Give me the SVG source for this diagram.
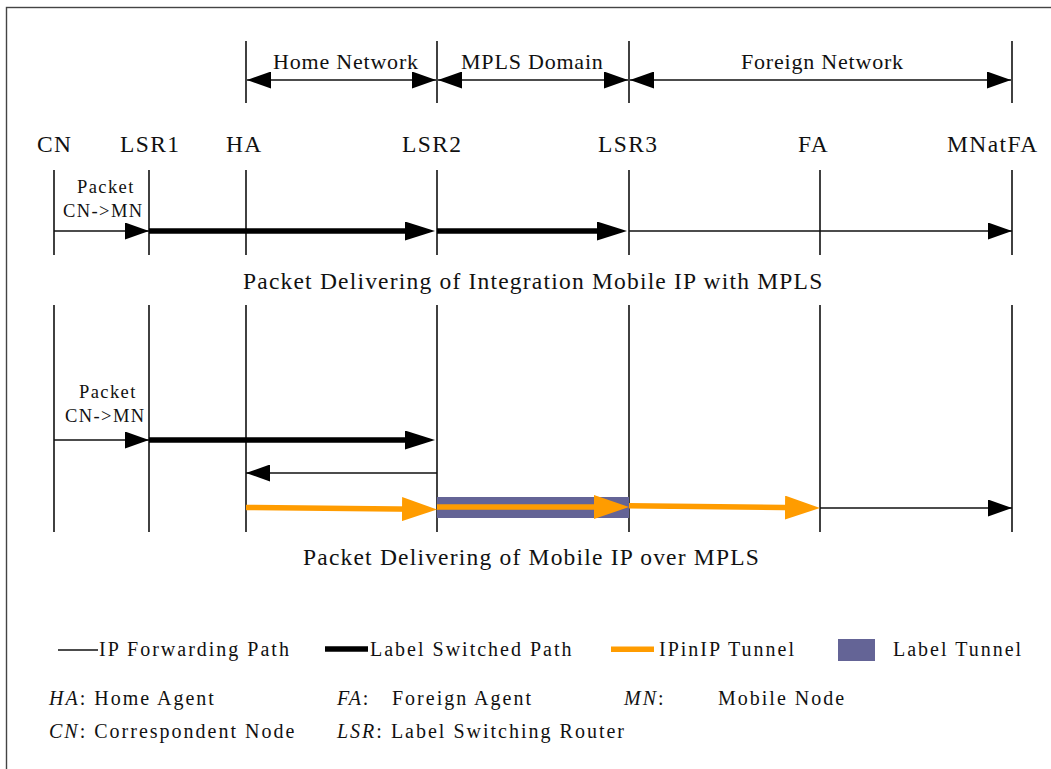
<svg xmlns="http://www.w3.org/2000/svg" width="1051" height="769" viewBox="0 0 1051 769">
  <style>
    .t { font-family: "Liberation Serif", "Times New Roman", serif; fill: #111; }
    .node { font-size: 23.5px; letter-spacing: 1.4px; }
    .zone { font-size: 22px; letter-spacing: 0.8px; }
    .small { font-size: 18.5px; letter-spacing: 1.4px; }
    .cap { font-size: 23.5px; letter-spacing: 1.2px; }
    .leg { font-size: 20px; letter-spacing: 2px; }
    .it { font-style: italic; }
    .vl { stroke: #111; stroke-width: 1.6; }
    .thin { stroke: #111; stroke-width: 1.6; fill: none; }
    .thick { stroke: #000; stroke-width: 5.5; fill: none; }
    .orange { stroke: #ff9c00; stroke-width: 5.5; fill: none; }
  </style>
  <defs>
    <marker id="ahThin" markerUnits="userSpaceOnUse" viewBox="0 0 24 17" markerWidth="24" markerHeight="17" refX="24" refY="8.5" orient="auto-start-reverse">
      <path d="M0,0 L24,8.5 L0,17 Z" fill="#000"/>
    </marker>
    <marker id="ahThick" markerUnits="userSpaceOnUse" viewBox="0 0 30 19" markerWidth="30" markerHeight="19" refX="16" refY="9.5" orient="auto">
      <path d="M0,0 L30,9.5 L0,19 Z" fill="#000"/>
    </marker>
    <marker id="ahOrange" markerUnits="userSpaceOnUse" viewBox="0 0 35 24" markerWidth="35" markerHeight="24" refX="18" refY="12" orient="auto">
      <path d="M0,0 L35,12 L0,24 Z" fill="#ff9c00"/>
    </marker>
  </defs>

  <!-- outer frame -->
  <rect x="6.5" y="7.5" width="1100" height="800" fill="#fff" stroke="#444" stroke-width="1.4"/>

  <!-- network zone brackets -->
  <g id="zones">
    <line class="vl" x1="246" y1="41" x2="246" y2="103"/>
    <line class="vl" x1="437" y1="41" x2="437" y2="103"/>
    <line class="vl" x1="629" y1="41" x2="629" y2="103"/>
    <line class="vl" x1="1012" y1="41" x2="1012" y2="103"/>
    <line class="thin" x1="247" y1="80" x2="436" y2="80" marker-start="url(#ahThin)" marker-end="url(#ahThin)"/>
    <line class="thin" x1="438" y1="80" x2="628" y2="80" marker-start="url(#ahThin)" marker-end="url(#ahThin)"/>
    <line class="thin" x1="630" y1="80" x2="1011" y2="80" marker-start="url(#ahThin)" marker-end="url(#ahThin)"/>
    <text class="t zone" x="273" y="68.5">Home Network</text>
    <text class="t zone" x="461" y="68.5">MPLS Domain</text>
    <text class="t zone" x="741" y="68.5">Foreign Network</text>
  </g>

  <!-- nodes: label plus lifelines in both scenarios -->
  <g id="node-cn">
    <text class="t node" x="37" y="152">CN</text>
    <line class="vl" x1="54" y1="170" x2="54" y2="255"/>
    <line class="vl" x1="54" y1="305" x2="54" y2="532"/>
  </g>
  <g id="node-lsr1">
    <text class="t node" x="120" y="152">LSR1</text>
    <line class="vl" x1="149" y1="170" x2="149" y2="255"/>
    <line class="vl" x1="149" y1="305" x2="149" y2="532"/>
  </g>
  <g id="node-ha">
    <text class="t node" x="226" y="152">HA</text>
    <line class="vl" x1="246" y1="170" x2="246" y2="255"/>
    <line class="vl" x1="246" y1="305" x2="246" y2="532"/>
  </g>
  <g id="node-lsr2">
    <text class="t node" x="402" y="152">LSR2</text>
    <line class="vl" x1="437" y1="170" x2="437" y2="255"/>
    <line class="vl" x1="437" y1="305" x2="437" y2="532"/>
  </g>
  <g id="node-lsr3">
    <text class="t node" x="598" y="152">LSR3</text>
    <line class="vl" x1="629" y1="170" x2="629" y2="255"/>
    <line class="vl" x1="629" y1="305" x2="629" y2="532"/>
  </g>
  <g id="node-fa">
    <text class="t node" x="798" y="152">FA</text>
    <line class="vl" x1="820" y1="170" x2="820" y2="255"/>
    <line class="vl" x1="820" y1="305" x2="820" y2="532"/>
  </g>
  <g id="node-mn">
    <text class="t node" x="947" y="152">MNatFA</text>
    <line class="vl" x1="1012" y1="170" x2="1012" y2="255"/>
    <line class="vl" x1="1012" y1="305" x2="1012" y2="532"/>
  </g>

  <!-- label tunnel between LSR2 and LSR3 -->
  <rect id="label-tunnel" x="437" y="497" width="192" height="21" fill="#646496"/>

  <g id="connectors">
    <!-- integrated Mobile IP with MPLS -->
    <line class="thin" x1="54" y1="231" x2="149" y2="231" marker-end="url(#ahThin)"/>
    <line class="thick" x1="149" y1="231" x2="421" y2="231" marker-end="url(#ahThick)"/>
    <line class="thick" x1="437" y1="231" x2="613" y2="231" marker-end="url(#ahThick)"/>
    <line class="thin" x1="629" y1="231" x2="1012" y2="231" marker-end="url(#ahThin)"/>

    <!-- Mobile IP over MPLS -->
    <line class="thin" x1="54" y1="440" x2="149" y2="440" marker-end="url(#ahThin)"/>
    <line class="thick" x1="149" y1="440" x2="421" y2="440" marker-end="url(#ahThick)"/>
    <line class="thin" x1="437" y1="473" x2="246" y2="473" marker-end="url(#ahThin)"/>
    <line class="orange" x1="246" y1="507.5" x2="420" y2="509.3" marker-end="url(#ahOrange)"/>
    <line class="orange" x1="437" y1="507" x2="612" y2="507" marker-end="url(#ahOrange)"/>
    <line class="orange" x1="629" y1="505.8" x2="803" y2="507.8" marker-end="url(#ahOrange)"/>
    <line class="thin" x1="820" y1="508" x2="1012" y2="508" marker-end="url(#ahThin)"/>
  </g>

  <g id="packet-labels">
    <text class="t small" x="77" y="193">Packet</text>
    <text class="t small" x="63" y="217">CN-&gt;MN</text>
    <text class="t small" x="79" y="398">Packet</text>
    <text class="t small" x="65" y="422">CN-&gt;MN</text>
  </g>

  <g id="captions">
    <text class="t cap" x="243" y="289">Packet Delivering of Integration Mobile IP with MPLS</text>
    <text class="t cap" x="303" y="565">Packet Delivering of Mobile IP over MPLS</text>
  </g>

  <g id="legend">
    <line x1="58" y1="650" x2="98" y2="650" stroke="#111" stroke-width="1.6"/>
    <text class="t leg" x="99" y="656">IP Forwarding Path</text>
    <line x1="325" y1="649" x2="368" y2="649" stroke="#000" stroke-width="5.5"/>
    <text class="t leg" x="370" y="656">Label Switched Path</text>
    <line x1="611" y1="649.3" x2="654" y2="649.3" stroke="#ff9c00" stroke-width="5.5"/>
    <text class="t leg" x="659" y="656">IPinIP Tunnel</text>
    <rect x="838" y="639" width="37" height="22" fill="#646496"/>
    <text class="t leg" x="893" y="656">Label Tunnel</text>

    <text class="t leg" x="49" y="705"><tspan class="it">HA</tspan>: Home Agent</text>
    <text class="t leg" x="337" y="705"><tspan class="it">FA</tspan>:</text>
    <text class="t leg" x="392" y="705">Foreign Agent</text>
    <text class="t leg" x="624" y="705"><tspan class="it">MN</tspan>:</text>
    <text class="t leg" x="718" y="705">Mobile Node</text>
    <text class="t leg" x="49" y="738"><tspan class="it">CN</tspan>: Correspondent Node</text>
    <text class="t leg" x="337" y="738"><tspan class="it">LSR</tspan>: Label Switching Router</text>
  </g>
</svg>
